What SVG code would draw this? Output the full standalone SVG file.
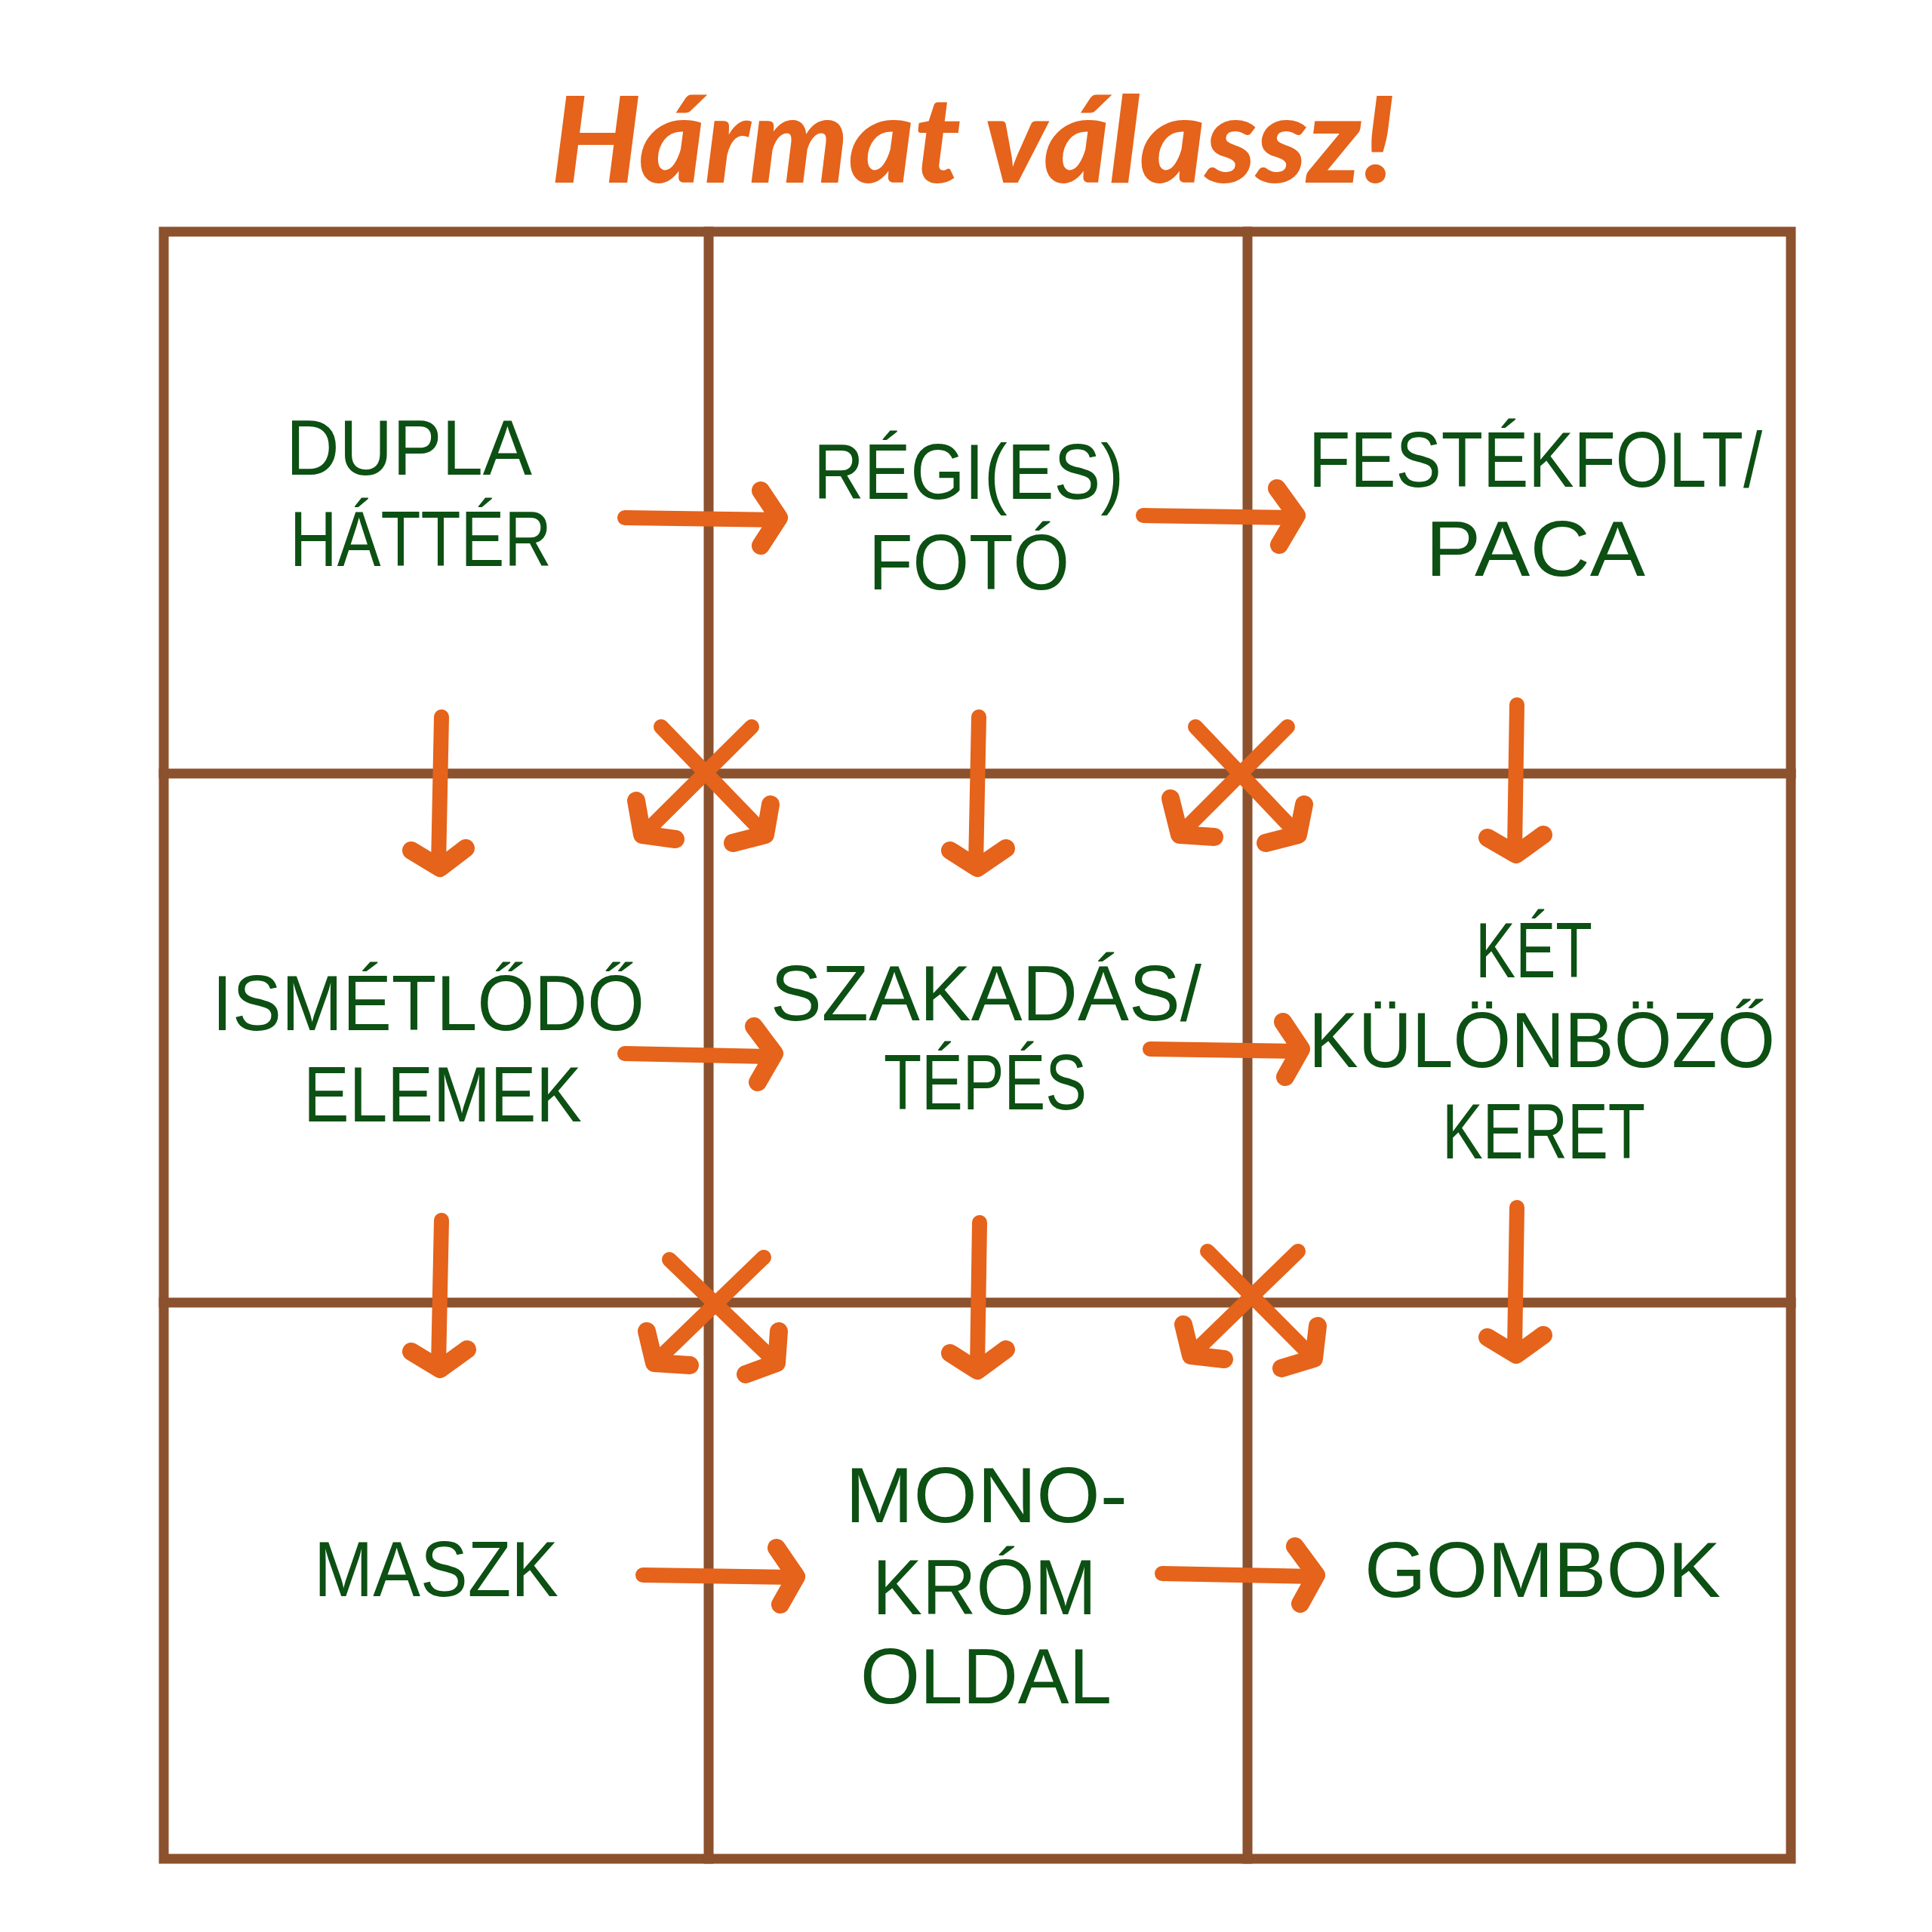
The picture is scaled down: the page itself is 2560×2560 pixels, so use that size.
<svg xmlns="http://www.w3.org/2000/svg" width="2560" height="2560" viewBox="0 0 2560 2560">
<style>
.grid{fill:none;stroke:#8C512D;stroke-width:13;stroke-linecap:square}
.arr{fill:none;stroke:#E5631A;stroke-width:20;stroke-linecap:round;stroke-linejoin:round}
.hd{fill:none;stroke:#E5631A;stroke-width:24;stroke-linecap:round;stroke-linejoin:round}
.lbl{font-family:"Liberation Sans","DejaVu Sans",sans-serif;font-size:103px;fill:#0C5013}
.title{font-family:Lato,"Liberation Serif",serif;font-style:italic;font-weight:900;font-size:158px;fill:#E5631A}
</style>
<rect width="2560" height="2560" fill="#ffffff"/>
<text class="title" x="730" y="242" textLength="1119" lengthAdjust="spacingAndGlyphs">Hármat válassz!</text>
<g id="grid">
<rect class="grid" x="217" y="307" width="2156" height="2156"/>
<line class="grid" x1="939" y1="307" x2="939" y2="2463"/>
<line class="grid" x1="1653" y1="307" x2="1653" y2="2463"/>
<line class="grid" x1="217" y1="1025" x2="2373" y2="1025"/>
<line class="grid" x1="217" y1="1726" x2="2373" y2="1726"/>
</g>
<g id="connectors">
<path class="arr" d="M828 686L1029 689"/><path class="hd" d="M1008 650L1032 686L1008 723"/>
<path class="arr" d="M1515 683L1715 686"/><path class="hd" d="M1692 647L1718 683L1695 722"/>
<path class="arr" d="M828 1396L1024 1400"/><path class="hd" d="M999 1360L1026 1396L1004 1434"/>
<path class="arr" d="M1524 1390L1720 1393"/><path class="hd" d="M1700 1354L1724 1390L1703 1427"/>
<path class="arr" d="M852 2087L1053 2090"/><path class="hd" d="M1029 2051L1055 2089L1034 2126"/>
<path class="arr" d="M1540 2085L1741 2089"/><path class="hd" d="M1716 2049L1744 2087L1723 2125"/>
<path class="arr" d="M585 950L581 1146"/><path class="hd" d="M545 1127L583 1150L617 1124"/>
<path class="arr" d="M1297 950L1293 1146"/><path class="hd" d="M1259 1127L1295 1150L1333 1124"/>
<path class="arr" d="M2010 934L2007 1127"/><path class="hd" d="M1971 1110L2009 1132L2045 1106"/>
<path class="arr" d="M585 1617L581 1809"/><path class="hd" d="M545 1791L583 1814L619 1788"/>
<path class="arr" d="M1298 1620L1295 1813"/><path class="hd" d="M1259 1793L1295 1816L1333 1788"/>
<path class="arr" d="M2010 1600L2007 1788"/><path class="hd" d="M1971 1772L2009 1795L2045 1769"/>
<path class="arr" d="M876 963L1014 1106"/><path class="hd" d="M971 1117L1014 1106L1021 1066"/>
<path class="arr" d="M996 963L852 1106"/><path class="hd" d="M843 1061L851 1106L895 1112"/>
<path class="arr" d="M1584 963L1720 1106"/><path class="hd" d="M1677 1117L1720 1106L1728 1066"/>
<path class="arr" d="M1706 963L1563 1106"/><path class="hd" d="M1551 1058L1563 1106L1609 1109"/>
<path class="arr" d="M887 1669L1029 1806"/><path class="hd" d="M988 1821L1029 1806L1032 1764"/>
<path class="arr" d="M1012 1666L867 1806"/><path class="hd" d="M857 1764L867 1806L914 1809"/>
<path class="arr" d="M1600 1658L1741 1800"/><path class="hd" d="M1698 1813L1741 1800L1746 1757"/>
<path class="arr" d="M1720 1658L1578 1796"/><path class="hd" d="M1568 1755L1578 1796L1622 1801"/>
</g>
<g id="n1"><text class="lbl" x="379" y="629" textLength="326" lengthAdjust="spacingAndGlyphs">DUPLA</text><text class="lbl" x="384" y="750" textLength="347" lengthAdjust="spacingAndGlyphs">HÁTTÉR</text></g>
<g id="n2"><text class="lbl" x="1078" y="661" textLength="411" lengthAdjust="spacingAndGlyphs">RÉGI(ES)</text><text class="lbl" x="1151" y="781" textLength="266" lengthAdjust="spacingAndGlyphs">FOTÓ</text></g>
<g id="n3"><text class="lbl" x="1734" y="645" textLength="601" lengthAdjust="spacingAndGlyphs">FESTÉKFOLT/</text><text class="lbl" x="1889" y="763" textLength="291" lengthAdjust="spacingAndGlyphs">PACA</text></g>
<g id="n4"><text class="lbl" x="281" y="1365" textLength="573" lengthAdjust="spacingAndGlyphs">ISMÉTLŐDŐ</text><text class="lbl" x="402" y="1486" textLength="369" lengthAdjust="spacingAndGlyphs">ELEMEK</text></g>
<g id="n5"><text class="lbl" x="1021" y="1352" textLength="571" lengthAdjust="spacingAndGlyphs">SZAKADÁS/</text><text class="lbl" x="1171" y="1470" textLength="269" lengthAdjust="spacingAndGlyphs">TÉPÉS</text></g>
<g id="n6"><text class="lbl" x="1955" y="1295" textLength="155" lengthAdjust="spacingAndGlyphs">KÉT</text><text class="lbl" x="1734" y="1414" textLength="618" lengthAdjust="spacingAndGlyphs">KÜLÖNBÖZŐ</text><text class="lbl" x="1911" y="1535" textLength="269" lengthAdjust="spacingAndGlyphs">KERET</text></g>
<g id="n7"><text class="lbl" x="416" y="2115" textLength="324" lengthAdjust="spacingAndGlyphs">MASZK</text></g>
<g id="n8"><text class="lbl" x="1120" y="2017" textLength="374" lengthAdjust="spacingAndGlyphs">MONO-</text><text class="lbl" x="1156" y="2139" textLength="297" lengthAdjust="spacingAndGlyphs">KRÓM</text><text class="lbl" x="1140" y="2257" textLength="333" lengthAdjust="spacingAndGlyphs">OLDAL</text></g>
<g id="n9"><text class="lbl" x="1808" y="2116" textLength="472" lengthAdjust="spacingAndGlyphs">GOMBOK</text></g>
</svg>
